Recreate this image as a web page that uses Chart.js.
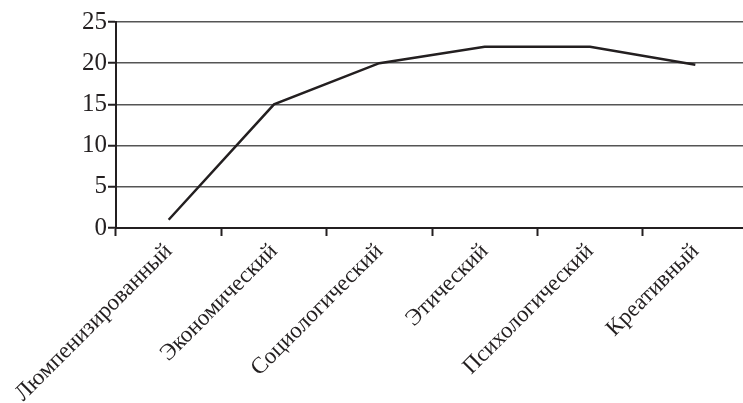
<!DOCTYPE html>
<html>
<head>
<meta charset="utf-8">
<script src="https://cdn.jsdelivr.net/npm/chart.js@4.4.1/dist/chart.umd.min.js"></script>
<style>
  html, body { margin: 0; padding: 0; background: #fff; overflow: hidden; }
  #wrap { position: relative; width: 748px; height: 403px; }
</style>
</head>
<body>
<div id="wrap"><canvas id="chart" width="748" height="403"></canvas></div>
<script>
// Categories and values
const categories = ['Люмпенизированный', 'Экономический', 'Социологический', 'Этический', 'Психологический', 'Креативный'];
const values = [1, 15, 20, 22, 22, 19.8];
const yTicks = [0, 5, 10, 15, 20, 25];

const serif = '"Liberation Serif", "Times New Roman", serif';

const ctx = document.getElementById('chart');
new Chart(ctx, {
    type: 'line',
    data: {
        labels: categories,
        datasets: [{
            data: values,
            borderColor: '#231f20',
            borderWidth: 2.5,
            pointRadius: 0,
            tension: 0,
            fill: false
        }]
    },
    options: {
        responsive: false,
        animation: false,
        layout: { padding: { top: 22, left: 0, right: 0, bottom: 0 } },
        plugins: { legend: { display: false }, tooltip: { enabled: false } },
        scales: {
            x: {
                offset: true,
                grid: {
                    offset: true,
                    drawOnChartArea: false,
                    drawTicks: true,
                    tickLength: 8,
                    tickWidth: 2,
                    tickColor: '#231f20'
                },
                border: { color: '#231f20', width: 2 },
                ticks: {
                    minRotation: 45,
                    maxRotation: 45,
                    autoSkip: false,
                    padding: 2,
                    color: '#231f20',
                    font: { family: serif, size: 23 }
                },
                afterFit(scale) {
                    scale.height = 175;
                    scale.paddingLeft = 0;
                    scale.paddingRight = 0;
                }
            },
            y: {
                min: 0,
                max: 25,
                afterBuildTicks(scale) {
                    scale.ticks = yTicks.map(v => ({ value: v }));
                },
                grid: {
                    color: '#555',
                    lineWidth: 1.5,
                    tickLength: 8,
                    tickColor: '#231f20',
                    tickWidth: 2
                },
                border: { color: '#231f20', width: 2 },
                ticks: {
                    padding: 1,
                    color: '#231f20',
                    font: { family: serif, size: 25 }
                },
                afterFit(scale) {
                    scale.width = 116;
                }
            }
        }
    }
});
</script>
</body>
</html>
